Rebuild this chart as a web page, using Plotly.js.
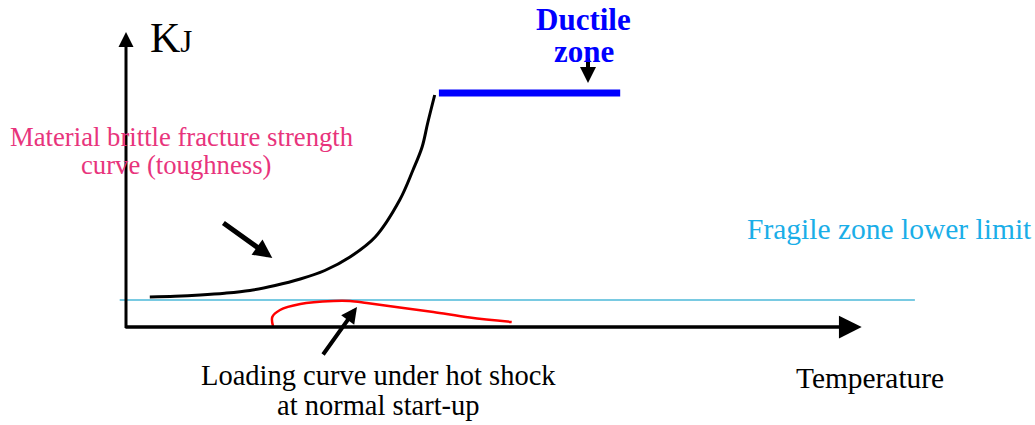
<!DOCTYPE html>
<html>
<head>
<meta charset="utf-8">
<script src="https://cdn.plot.ly/plotly-3.0.1.min.js"></script>
<style>html,body{margin:0;padding:0;background:#fff;}#chart{width:1035px;height:425px;}</style>
</head>
<body>
<div id="chart"></div>
<script>
// Schematic values (temperature, KJ)
const toughT = [3.4, 7, 10.6, 14.1, 17.7, 21.3, 24.9, 28.4, 32, 35.6, 39.1, 41, 42.3, 43.1, 44.1];
const toughK = [12, 12.3, 12.8, 13.5, 14.6, 16.6, 19.2, 22.6, 28, 36, 50.8, 62.8, 72, 81.6, 92.8];
const ductileT = [44.7, 70.6];
const ductileK = [93.6, 93.6];
const fragileT = [-0.9, 112.7];
const fragileK = [10.8, 10.8];
const loadT = [21, 20.9, 22, 24.9, 29.6, 32, 34.4, 39.1, 43.9, 49.1, 55.1];
const loadK = [0.4, 4, 6.8, 9.2, 10.4, 10.4, 9.6, 7.8, 6, 3.8, 2];

const serif = "Liberation Serif, Times New Roman, serif";

const traces = [
  {x: fragileT, y: fragileK, mode: 'lines', line: {color: '#4db8d8', width: 1.5}, hoverinfo: 'skip'},
  {x: toughT, y: toughK, mode: 'lines', line: {color: '#000', width: 3, shape: 'spline', smoothing: 1}, hoverinfo: 'skip'},
  {x: ductileT, y: ductileK, mode: 'lines', line: {color: '#0000ff', width: 7}, hoverinfo: 'skip'},
  {x: loadT, y: loadK, mode: 'lines', line: {color: '#ff0000', width: 2.5, shape: 'spline', smoothing: 1}, hoverinfo: 'skip'}
];

function arrow(x, y, ax, ay, w, size) {
  return {x: x, y: y, ax: ax, ay: ay, xref: 'x', yref: 'y', axref: 'x', ayref: 'y',
    text: '', showarrow: true, arrowhead: 2, arrowwidth: w, arrowsize: size, arrowcolor: '#000', standoff: 0, startstandoff: 0};
}
function label(x, y, text, size, color, bold) {
  return {x: x, y: y, xref: 'x', yref: 'y', text: bold ? '<b>' + text + '</b>' : text, showarrow: false,
    xanchor: 'center', yanchor: 'middle', font: {family: serif, size: size, color: color}};
}

const annotations = [
  arrow(0, 118, 0, -1, 3, 1.0),      // y axis
  arrow(105.1, 0, -0.3, 0, 3.5, 1.3), // x axis
  arrow(20.9, 27.6, 13.7, 42, 5, 0.75),
  arrow(33, 8, 28, -11.6, 4, 0.8),
  arrow(66, 97.6, 66, 108, 4, 0.8),
  {x: 3.1, y: 115.6, xref: 'x', yref: 'y', text: 'K<span style="font-size:31px">J</span>', showarrow: false,
    xanchor: 'left', yanchor: 'middle', font: {family: serif, size: 42, color: '#000'}},
  label(65.4, 123.2, 'Ductile', 31, '#0000ff', true),
  label(65.4, 110.2, 'zone', 31, '#0000ff', true),
  label(7.9, 76, 'Material brittle fracture strength', 26.7, '#e8347c', false),
  label(7.1, 64.8, 'curve (toughness)', 26.7, '#e8347c', false),
  label(109, 39.2, 'Fragile zone lower limit', 29.5, '#1aaee8', false),
  label(36, -19.2, 'Loading curve under hot shock', 28.5, '#000', false),
  label(36, -31.2, 'at normal start-up', 28.5, '#000', false),
  label(106.3, -20.4, 'Temperature', 29.4, '#000', false)
];

const layout = {
  width: 1035, height: 425,
  margin: {l: 0, r: 0, t: 0, b: 0},
  paper_bgcolor: '#fff', plot_bgcolor: '#fff',
  showlegend: false,
  xaxis: {range: [-18, 129.857], visible: false, fixedrange: true},
  yaxis: {range: [-39.2, 130.8], visible: false, fixedrange: true},
  annotations: annotations
};

Plotly.newPlot('chart', traces, layout, {staticPlot: true, displayModeBar: false});
</script>
</body>
</html>
